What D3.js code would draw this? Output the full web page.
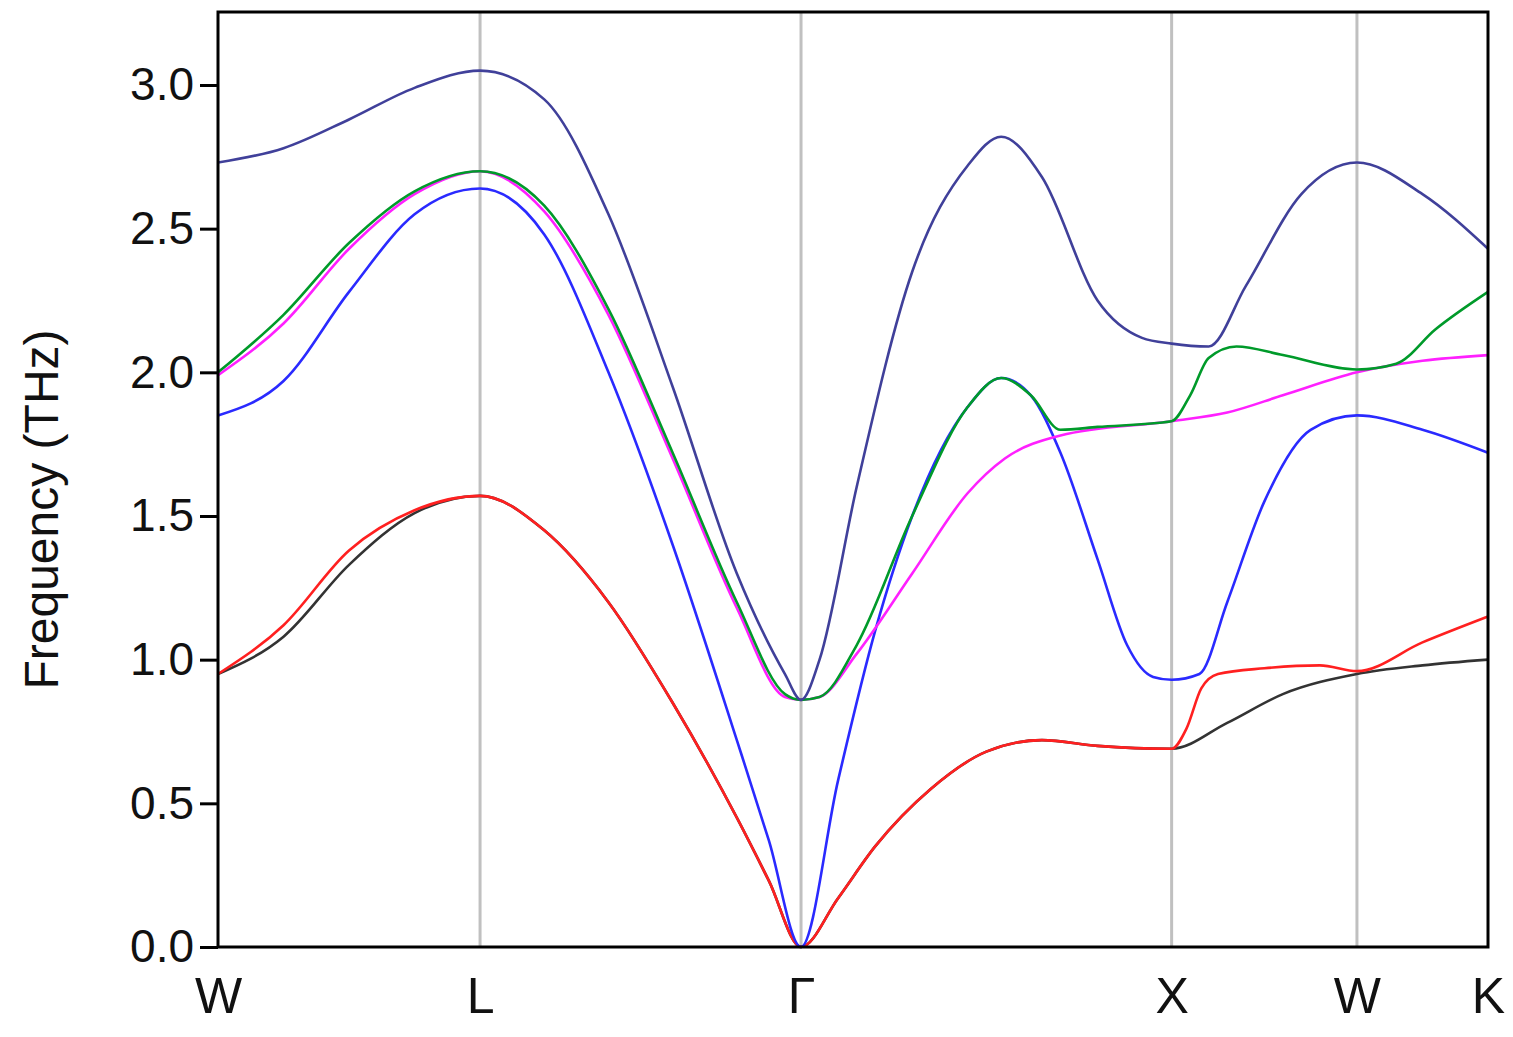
<!DOCTYPE html>
<html><head><meta charset="utf-8">
<script src="https://cdn.jsdelivr.net/npm/d3@7"></script>
<style>body{margin:0;background:#fff}text{font-family:Arial,"Liberation Sans",sans-serif}</style>
</head><body><svg id="c" width="1513" height="1037"></svg>
<script>
const kLabels=["W","L","Γ","X","W","K"];
const segLen=[0.7071,0.8660,1.0,0.5,0.3536];
const yTicks=[0,0.5,1.0,1.5,2.0,2.5,3.0];
const colors=["#333333","#ff2020","#2a2aff","#ff20ff","#009a2a","#40409a"];
// each band: per segment list of [t, freq]
const black=[[[0,.95],[.25,1.08],[.5,1.33],[.75,1.51],[1,1.57]],[[.2,1.45],[.4,1.2],[.6,.85],[.8,.45],[.9,.23],[1,0]],[[.1,.17],[.2,.35],[.35,.55],[.5,.68],[.65,.72],[.8,.7],[1,.69]],[[.3,.78],[.6,.88],[1,.95]],[[.5,.98],[1,1.0]]];
const red=[[[0,.95],[.25,1.12],[.5,1.38],[.75,1.52],[1,1.57]],[[.2,1.45],[.4,1.2],[.6,.85],[.8,.45],[.9,.23],[1,0]],[[.1,.17],[.2,.35],[.35,.55],[.5,.68],[.65,.72],[.8,.7],[1,.69]],[[.08,.76],[.16,.9],[.25,.95],[.5,.97],[.8,.98],[1,.96]],[[.5,1.06],[1,1.15]]];
const blue=[[[0,1.85],[.25,1.97],[.5,2.28],[.75,2.55],[1,2.64]],[[.2,2.48],[.4,2.0],[.6,1.4],[.8,.72],[.9,.37],[1,0]],[[.1,.58],[.2,1.1],[.3,1.5],[.45,1.88],[.54,1.98],[.62,1.92],[.7,1.72],[.8,1.35],[.88,1.05],[.95,.94],[1,.93]],[[.15,.95],[.3,1.2],[.5,1.55],[.75,1.8],[1,1.85]],[[.5,1.8],[1,1.72]]];
const magenta=[[[0,1.99],[.25,2.17],[.5,2.43],[.75,2.62],[1,2.70]],[[.2,2.56],[.4,2.2],[.6,1.70],[.8,1.18],[.95,.87],[1,.86]],[[.05,.87],[.15,1.02],[.3,1.3],[.45,1.58],[.55,1.7],[.7,1.78],[1,1.83]],[[.3,1.86],[.6,1.92],[1,2.0]],[[.5,2.04],[1,2.06]]];
const green=[[[0,2.0],[.25,2.2],[.5,2.45],[.75,2.63],[1,2.70]],[[.2,2.58],[.4,2.22],[.6,1.72],[.8,1.2],[.95,.88],[1,.86]],[[.05,.87],[.15,1.05],[.3,1.5],[.45,1.88],[.54,1.98],[.62,1.92],[.7,1.8],[.8,1.81],[1,1.83]],[[.1,1.92],[.2,2.05],[.35,2.09],[.6,2.06],[1,2.01]],[[.3,2.03],[.6,2.15],[1,2.28]]];
const navy=[[[0,2.73],[.25,2.78],[.5,2.88],[.75,2.99],[1,3.05]],[[.2,2.95],[.4,2.55],[.6,1.95],[.8,1.3],[.95,.95],[1,.86]],[[.05,1.0],[.15,1.6],[.3,2.35],[.45,2.72],[.54,2.82],[.65,2.68],[.8,2.25],[.92,2.12],[1,2.10]],[[.2,2.09],[.4,2.3],[.7,2.62],[1,2.73]],[[.5,2.62],[1,2.43]]];
const bands=[black,red,blue,magenta,green,navy];

const kPos=[0];segLen.forEach(l=>kPos.push(kPos[kPos.length-1]+l));
function flat(b){const pts=[];b.forEach((seg,i)=>seg.forEach(([t,f])=>{const k=kPos[i]+t*segLen[i];if(!pts.length||k>pts[pts.length-1][0]+1e-9)pts.push([k,f]);}));return pts;}
const svg=d3.select("#c");
const L=218,R=1488,T=12,B=947;
const x=d3.scaleLinear().domain([0,kPos[5]]).range([L,R]);
const y=d3.scaleLinear().domain([0,3.254]).range([B,T]);
kPos.slice(1,5).forEach(k=>svg.append("line").attr("x1",x(k)).attr("x2",x(k)).attr("y1",T).attr("y2",B).attr("stroke","#c0c0c0").attr("stroke-width",3));
const line=d3.line().x(d=>x(d[0])).y(d=>y(d[1])).curve(d3.curveMonotoneX);
bands.forEach((b,i)=>svg.append("path").attr("d",line(flat(b))).attr("fill","none").attr("stroke",colors[i]).attr("stroke-width",2.6));
svg.append("rect").attr("x",L).attr("y",T).attr("width",R-L).attr("height",B-T).attr("fill","none").attr("stroke","#000").attr("stroke-width",3);
const ya=svg.append("g").attr("transform",`translate(${L},0)`).call(d3.axisLeft(y).tickValues(yTicks).tickFormat(d3.format(".1f")).tickSize(18).tickPadding(6));
ya.select(".domain").remove();
ya.selectAll("line").attr("stroke-width",3);
ya.selectAll("text").attr("font-size",46).attr("fill","#111");
const xa=svg.append("g").attr("transform",`translate(0,${B})`).call(d3.axisBottom(x).tickValues(kPos).tickFormat((d,i)=>kLabels[i]).tickSize(0).tickPadding(30));
xa.select(".domain").remove();
xa.selectAll("text").attr("font-size",50).attr("fill","#111").attr("dy","0.71em");
svg.append("text").attr("transform",`translate(58,${(T+B)/2+30}) rotate(-90)`).attr("text-anchor","middle").attr("font-size",48).attr("fill","#111").text("Frequency (THz)");
</script></body></html>
